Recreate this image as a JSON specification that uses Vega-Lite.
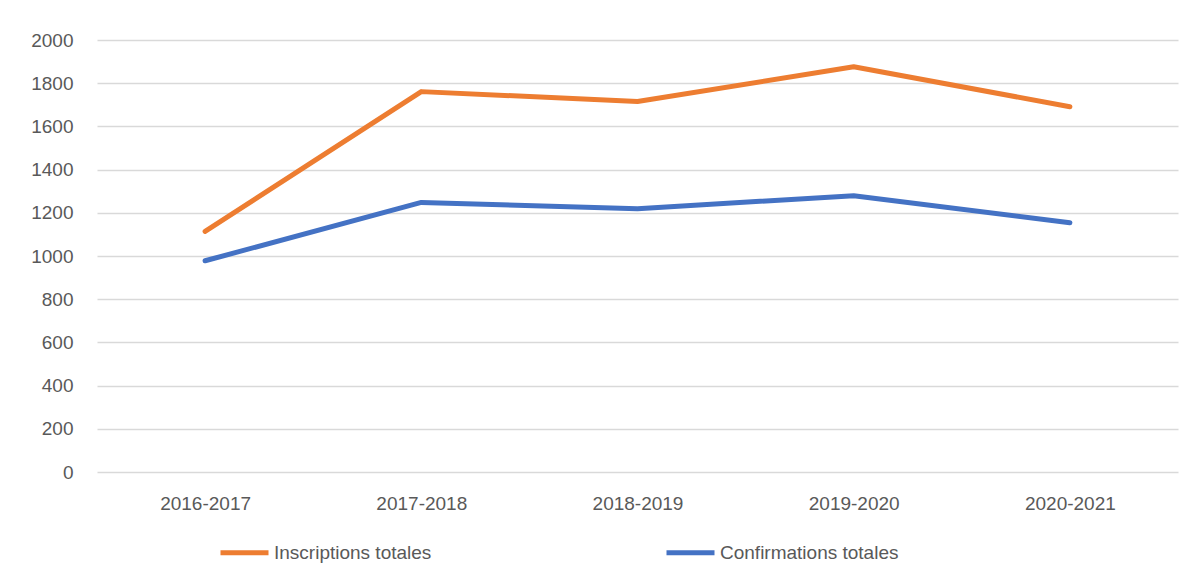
{
  "$schema": "https://vega.github.io/schema/vega-lite/v6.json",
  "autosize": "none",
  "width": 1081,
  "height": 432,
  "padding": {"left": 97, "top": 40, "right": 16, "bottom": 114},
  "background": "white",
  "data": {
    "values": [
      {"annee": "2016-2017", "serie": "Inscriptions totales", "valeur": 1114},
      {"annee": "2017-2018", "serie": "Inscriptions totales", "valeur": 1761},
      {"annee": "2018-2019", "serie": "Inscriptions totales", "valeur": 1715},
      {"annee": "2019-2020", "serie": "Inscriptions totales", "valeur": 1876},
      {"annee": "2020-2021", "serie": "Inscriptions totales", "valeur": 1691},
      {"annee": "2016-2017", "serie": "Confirmations totales", "valeur": 978},
      {"annee": "2017-2018", "serie": "Confirmations totales", "valeur": 1248},
      {"annee": "2018-2019", "serie": "Confirmations totales", "valeur": 1219},
      {"annee": "2019-2020", "serie": "Confirmations totales", "valeur": 1279},
      {"annee": "2020-2021", "serie": "Confirmations totales", "valeur": 1154}
    ]
  },
  "mark": {"type": "line", "strokeWidth": 5, "strokeCap": "round", "strokeJoin": "round"},
  "encoding": {
    "x": {
      "field": "annee", "type": "ordinal",
      "scale": {"type": "point", "padding": 0.5},
      "axis": {"title": null, "labelAngle": 0, "ticks": false, "domain": false, "labelPadding": 22, "grid": false}
    },
    "y": {
      "field": "valeur", "type": "quantitative",
      "scale": {"domain": [0, 2000]},
      "axis": {"title": null, "format": "d", "values": [0,200,400,600,800,1000,1200,1400,1600,1800,2000], "ticks": false, "domain": false, "labelPadding": 24, "gridColor": "#d9d9d9", "gridWidth": 1.3}
    },
    "color": {
      "field": "serie", "type": "nominal",
      "scale": {"domain": ["Inscriptions totales", "Confirmations totales"], "range": ["#ED7D31", "#4472C4"]},
      "legend": {
        "title": null, "orient": "none", "direction": "horizontal",
        "legendX": 121, "legendY": 486,
        "symbolType": "stroke", "symbolSize": 2304, "symbolStrokeWidth": 5,
        "labelOffset": 3, "columnPadding": 224
      }
    }
  },
  "config": {
    "view": {"stroke": null},
    "font": "Liberation Sans",
    "axis": {"labelFont": "Liberation Sans", "labelFontSize": 19, "labelColor": "#595959"},
    "legend": {"labelFont": "Liberation Sans", "labelFontSize": 19, "labelColor": "#595959", "labelLimit": 400}
  }
}
